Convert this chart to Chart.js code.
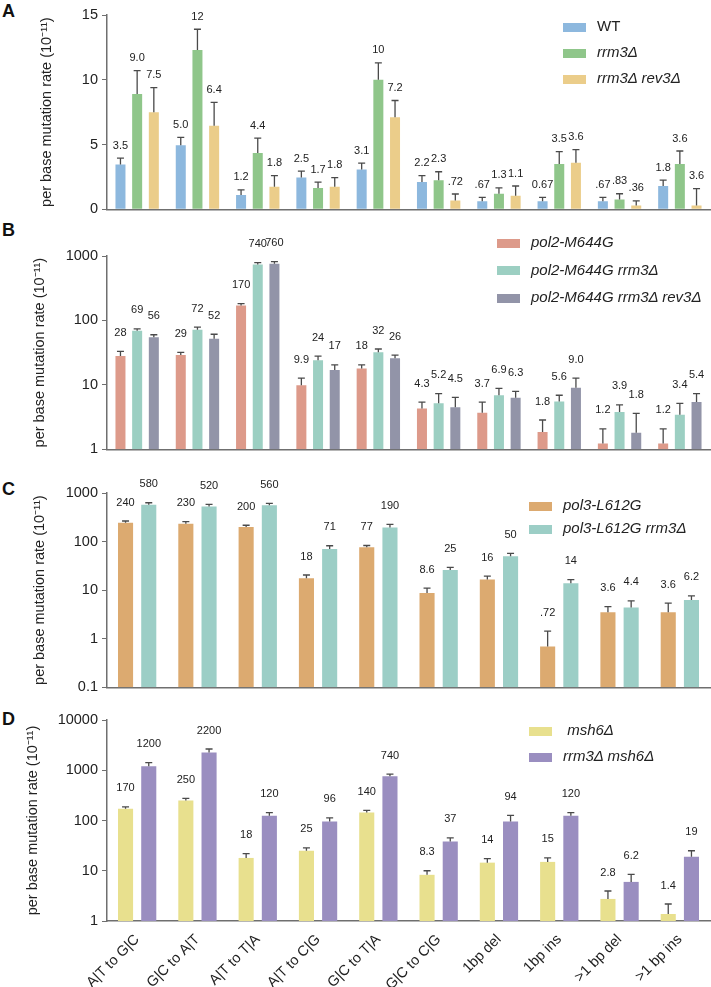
<!DOCTYPE html>
<html>
<head>
<meta charset="utf-8">
<script src="https://cdn.jsdelivr.net/npm/chart.js@4"></script>
<style>
    body { margin: 0; background: #fff; }
    #wrap { position: relative; width: 711px; height: 987px; font-family: Arial, "Liberation Sans", sans-serif; }
    #wrap canvas { position: absolute; left: 0; }
    .letter { position: absolute; left: 2px; font-weight: bold; font-size: 18px; color: #111; }
    .legend { position: absolute; font-size: 15px; color: #222; }
    .legend div { height: 26px; line-height: 26px; white-space: nowrap; }
    .legend span { display: inline-block; width: 23px; height: 9px; margin-right: 11px; vertical-align: middle; }
    .legend i { font-style: italic; }
</style>
</head>
<body>
<div id="wrap">
    <div class="letter" style="top:1px">A</div>
    <div class="letter" style="top:220px">B</div>
    <div class="letter" style="top:479px">C</div>
    <div class="letter" style="top:709px">D</div>
    <canvas id="chart-a" width="711" height="222" style="top:0"></canvas>
    <canvas id="chart-b" width="711" height="240" style="top:222px"></canvas>
    <canvas id="chart-c" width="711" height="238" style="top:462px"></canvas>
    <canvas id="chart-d" width="711" height="287" style="top:700px"></canvas>
    <div class="legend" style="left:563px;top:13px">
        <div><span style="background:#8db8de"></span>WT</div>
        <div><span style="background:#8fc68a"></span><i>rrm3Δ</i></div>
        <div><span style="background:#ebcd8a"></span><i>rrm3Δ rev3Δ</i></div>
    </div>
    <div class="legend" style="left:497px;top:228px">
        <div style="height:27.5px;line-height:27.5px"><span style="background:#dd9a8a"></span><i>pol2-M644G</i></div>
        <div style="height:27.5px;line-height:27.5px"><span style="background:#9ccfc2"></span><i>pol2-M644G rrm3Δ</i></div>
        <div style="height:27.5px;line-height:27.5px"><span style="background:#9294a8"></span><i>pol2-M644G rrm3Δ rev3Δ</i></div>
    </div>
    <div class="legend" style="left:529px;top:493px">
        <div style="height:23px;line-height:23px"><span style="background:#dcaa70"></span><i>pol3-L612G</i></div>
        <div style="height:23px;line-height:23px"><span style="background:#9ccec6"></span><i>pol3-L612G rrm3Δ</i></div>
    </div>
    <div class="legend" style="left:529px;top:717px">
        <div><span style="background:#e8e08e"></span><i>&nbsp;msh6Δ</i></div>
        <div><span style="background:#9a8ec0"></span><i>rrm3Δ msh6Δ</i></div>
    </div>
</div>
<script>
const categories = ['A|T to G|C', 'G|C to A|T', 'A|T to T|A', 'A|T to C|G', 'G|C to T|A',
    'G|C to C|G', '1bp del', '1bp ins', '>1 bp del', '>1 bp ins'];

// Panel A (linear)
const aTicks = [0, 5, 10, 15];
const aWT = [3.45, 4.95, 1.1, 2.45, 3.07, 2.1, 0.62, 0.62, 0.62, 1.8];
const aWTErr = [0.5, 0.6, 0.4, 0.5, 0.5, 0.5, 0.3, 0.3, 0.3, 0.45];
const aWTLbl = ['3.5', '5.0', '1.2', '2.5', '3.1', '2.2', '.67', '0.67', '.67', '1.8'];
const aRrm = [8.9, 12.3, 4.35, 1.65, 10.0, 2.25, 1.2, 3.5, 0.75, 3.5];
const aRrmErr = [1.8, 1.6, 1.15, 0.45, 1.3, 0.65, 0.45, 0.95, 0.45, 1.0];
const aRrmLbl = ['9.0', '12', '4.4', '1.7', '10', '2.3', '1.3', '3.5', '.83', '3.6'];
const aRev = [7.5, 6.45, 1.75, 1.75, 7.1, 0.68, 1.05, 3.6, 0.3, 0.3];
const aRevErr = [1.9, 1.8, 0.85, 0.7, 1.3, 0.5, 0.75, 1.0, 0.35, 1.3];
const aRevLbl = ['7.5', '6.4', '1.8', '1.8', '7.2', '.72', '1.1', '3.6', '.36', '3.6'];

// Panel B (log)
const bTicks = [1, 10, 100, 1000];
const bPol2 = [28, 29, 170, 9.9, 18, 4.3, 3.7, 1.85, 1.23, 1.23];
const bPol2Err = [5, 3, 12, 2.8, 2.5, 1.1, 1.7, 1.0, 0.85, 0.85];
const bPol2Lbl = ['28', '29', '170', '9.9', '18', '4.3', '3.7', '1.8', '1.2', '1.2'];
const bRrm = [69, 72, 740, 24, 32, 5.2, 6.9, 5.5, 3.8, 3.45];
const bRrmErr = [5, 7, 50, 4, 4, 2.1, 1.9, 1.4, 1.1, 1.7];
const bRrmLbl = ['69', '72', '740', '24', '32', '5.2', '6.9', '5.6', '3.9', '3.4'];
const bRev = [55, 52, 760, 17, 26, 4.5, 6.3, 9.0, 1.8, 5.4];
const bRevErr = [5, 9, 60, 3.5, 3, 1.9, 1.6, 3.7, 1.8, 1.9];
const bRevLbl = ['56', '52', '760', '17', '26', '4.5', '6.3', '9.0', '1.8', '5.4'];

// Panel C (log)
const cTicks = [0.1, 1, 10, 100, 1000];
const cPol3 = [245, 232, 200, 17.5, 76, 8.7, 16.5, 0.69, 3.5, 3.5];
const cPol3Err = [20, 25, 17, 3, 7, 2.3, 3, 0.75, 1.1, 1.9];
const cPol3Lbl = ['240', '230', '200', '18', '77', '8.6', '16', '.72', '3.6', '3.6'];
const cRrm = [575, 525, 560, 70, 195, 26, 50, 13.8, 4.4, 6.3];
const cRrmErr = [55, 60, 50, 12, 30, 3.5, 7, 2.6, 1.6, 1.3];
const cRrmLbl = ['580', '520', '560', '71', '190', '25', '50', '14', '4.4', '6.2'];

// Panel D (log)
const dTicks = [1, 10, 100, 1000, 10000];
const dMsh = [172, 250, 18, 25, 145, 8.3, 14.5, 15, 2.75, 1.38];
const dMshErr = [15, 25, 4, 3.5, 14, 1.7, 3, 3, 1.2, 0.8];
const dMshLbl = ['170', '250', '18', '25', '140', '8.3', '14', '15', '2.8', '1.4'];
const dRrm = [1200, 2250, 124, 96, 760, 38, 96, 124, 6.0, 19];
const dRrmErr = [220, 400, 20, 17, 80, 7, 30, 20, 2.5, 6];
const dRrmLbl = ['1200', '2200', '120', '96', '740', '37', '94', '120', '6.2', '19'];

const FONT = 'Arial, "Liberation Sans", sans-serif';
const AXIS = '#6f6f6f';

// error bars (top only) and value labels above them
const errorBarPlugin = {
    id: 'errorBars',
    afterDatasetsDraw(chart, args, opts) {
        const ctx = chart.ctx;
        const y = chart.scales.y;
        ctx.save();
        chart.data.datasets.forEach((ds, di) => {
            const meta = chart.getDatasetMeta(di);
            meta.data.forEach((bar, i) => {
                const top = y.getPixelForValue(ds.data[i] + ds.errors[i]);
                ctx.strokeStyle = '#4a4a4a';
                ctx.lineWidth = 1.3;
                ctx.beginPath();
                ctx.moveTo(bar.x, bar.y);
                ctx.lineTo(bar.x, top);
                ctx.moveTo(bar.x - 3.5, top);
                ctx.lineTo(bar.x + 3.5, top);
                ctx.stroke();
                ctx.fillStyle = '#222';
                ctx.font = '11px ' + FONT;
                ctx.textAlign = 'center';
                ctx.textBaseline = 'bottom';
                ctx.fillText(ds.labels[i], bar.x, top - opts.gap);
            });
        });
        ctx.restore();
    }
};

function makeDataset(values, errors, labels, color) {
    return { data: values, errors: errors, labels: labels, backgroundColor: color };
}

function renderPanel(id, cfg) {
    new Chart(document.getElementById(id), {
        type: 'bar',
        data: { labels: categories, datasets: cfg.datasets },
        plugins: [errorBarPlugin],
        options: {
            responsive: false,
            animation: false,
            events: [],
            categoryPercentage: cfg.catPct,
            barPercentage: cfg.barPct,
            layout: { padding: { top: cfg.top, right: 1, left: 0, bottom: 0 } },
            plugins: {
                legend: { display: false },
                tooltip: { enabled: false },
                errorBars: { gap: cfg.gap }
            },
            scales: {
                x: {
                    grid: { display: false },
                    border: { display: true, color: AXIS, width: 1.5 },
                    ticks: {
                        display: cfg.showX,
                        minRotation: 45, maxRotation: 45,
                        autoSkip: false,
                        color: '#222',
                        font: { family: FONT, size: 14.5 },
                        padding: 2
                    },
                    afterFit: s => { s.height = cfg.xHeight; }
                },
                y: {
                    type: cfg.type,
                    min: cfg.ticks[0],
                    max: cfg.ticks[cfg.ticks.length - 1],
                    grid: { display: true, drawOnChartArea: false, drawTicks: true, tickLength: 5, color: AXIS },
                    border: { display: true, color: AXIS, width: 1.5 },
                    ticks: {
                        color: '#222',
                        font: { family: FONT, size: 14.5 },
                        padding: 4,
                        callback: v => String(v)
                    },
                    afterBuildTicks: s => { s.ticks = cfg.ticks.map(v => ({ value: v })); },
                    title: {
                        display: true,
                        text: 'per base mutation rate (10⁻¹¹)',
                        color: '#222',
                        font: { family: FONT, size: 14.5 },
                        padding: { top: cfg.titleX, bottom: 0 }
                    },
                    afterFit: s => { s.width = 107; }
                }
            }
        }
    });
}

renderPanel('chart-a', {
    type: 'linear', ticks: aTicks, top: 15, xHeight: 7, showX: false, titleX: 38, gap: 7,
    catPct: 0.83, barPct: 0.6,
    datasets: [
        makeDataset(aWT, aWTErr, aWTLbl, '#8db8de'),
        makeDataset(aRrm, aRrmErr, aRrmLbl, '#8fc68a'),
        makeDataset(aRev, aRevErr, aRevLbl, '#ebcd8a')
    ]
});

renderPanel('chart-b', {
    type: 'logarithmic', ticks: bTicks, top: 34, xHeight: 5, showX: false, titleX: 31, gap: 13,
    catPct: 0.83, barPct: 0.6,
    datasets: [
        makeDataset(bPol2, bPol2Err, bPol2Lbl, '#dd9a8a'),
        makeDataset(bRrm, bRrmErr, bRrmLbl, '#9ccfc2'),
        makeDataset(bRev, bRevErr, bRevLbl, '#9294a8')
    ]
});

renderPanel('chart-c', {
    type: 'logarithmic', ticks: cTicks, top: 31, xHeight: 6, showX: false, titleX: 31, gap: 13,
    catPct: 0.77, barPct: 0.65,
    datasets: [
        makeDataset(cPol3, cPol3Err, cPol3Lbl, '#dcaa70'),
        makeDataset(cRrm, cRrmErr, cRrmLbl, '#9ccec6')
    ]
});

renderPanel('chart-d', {
    type: 'logarithmic', ticks: dTicks, top: 20, xHeight: 66, showX: true, titleX: 24, gap: 13,
    catPct: 0.77, barPct: 0.65,
    datasets: [
        makeDataset(dMsh, dMshErr, dMshLbl, '#e8e08e'),
        makeDataset(dRrm, dRrmErr, dRrmLbl, '#9a8ec0')
    ]
});
</script>
</body>
</html>
